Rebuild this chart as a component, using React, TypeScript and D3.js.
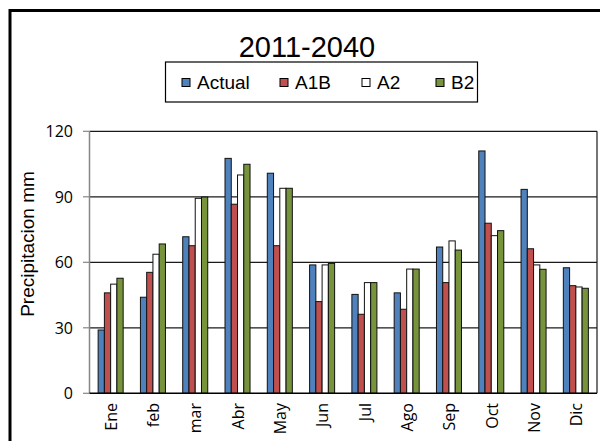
import React from "react";
import * as d3 from "d3";

const months = ["Ene", "feb", "mar", "Abr", "May", "Jun", "Jul", "Ago", "Sep", "Oct", "Nov", "Dic"];
const seriesNames = ["Actual", "A1B", "A2", "B2"];
const actual = [29, 44, 71.7, 107.6, 100.8, 58.8, 45.3, 46, 67, 111, 93.4, 57.5];
const a1b = [46, 55.4, 67.6, 86.6, 67.6, 42, 36.2, 38.5, 50.7, 77.9, 66.2, 49.3];
const a2 = [50, 63.7, 89.3, 100, 93.9, 58.8, 50.7, 56.9, 69.8, 72.2, 58.8, 48.7];
const b2 = [52.7, 68.4, 89.9, 104.9, 93.9, 59.5, 50.7, 56.9, 65.6, 74.5, 56.8, 48.1];
const yTicks = [0, 30, 60, 90, 120];
const colors = ["#4F81BD", "#C0504D", "#FFFFFF", "#77933C"];
const legendX = [182, 280, 362, 436];

const W = 600, H = 441;
const left = 89.5, right = 597, top = 131.3, bottom = 393.3;

export default function App() {
  const data = [actual, a1b, a2, b2];
  const x0 = d3.scaleBand<string>().domain(months).range([left, right]).paddingInner(0).paddingOuter(0);
  const x1 = d3.scaleBand<string>().domain(seriesNames).range([0, x0.bandwidth()]).paddingInner(0).paddingOuter(1.38);
  const y = d3.scaleLinear().domain([0, 120]).range([bottom, top]);
  const arial = "'Liberation Sans', Arial, sans-serif";
  const sans = "'Open Sans', 'DejaVu Sans', sans-serif";

  return (
    <svg width={W} height={H} style={{ position: "absolute", left: 0, top: 0, background: "#fff" }}>
      <rect x={0} y={0} width={W} height={H} fill="#fff" />
      {/* outer frame */}
      <rect x={10} y={10.5} width={W + 20} height={H + 20} fill="none" stroke="#000" strokeWidth={3} />
      {/* title */}
      <text x={307} y={57} textAnchor="middle" fontFamily={arial} fontSize={29} fill="#000">2011-2040</text>
      {/* legend */}
      <rect x={165.5} y={62} width={312} height={40} fill="#fff" stroke="#000" strokeWidth={1.2} />
      {seriesNames.map((s, i) => (
        <g key={s}>
          <rect x={legendX[i]} y={78.5} width={8} height={8} fill={colors[i]} stroke="#000" strokeWidth={1} />
          <text x={legendX[i] + 15} y={89} fontFamily={arial} fontSize={19} fill="#000">{s}</text>
        </g>
      ))}
      {/* gridlines */}
      {yTicks.filter((t) => t > 0).map((t) => (
        <line key={t} x1={left} x2={right} y1={y(t)} y2={y(t)} stroke="#1a1a1a" strokeWidth={1.2} />
      ))}
      {/* right border of plot */}
      <line x1={right} x2={right} y1={top} y2={bottom} stroke="#1a1a1a" strokeWidth={1.2} />
      {/* bars */}
      {months.map((m, mi) => (
        <g key={m} transform={`translate(${x0(m)},0)`}>
          {seriesNames.map((s, si) => (
            <rect
              key={s}
              x={x1(s)!}
              y={y(data[si][mi])}
              width={x1.bandwidth()}
              height={y(0) - y(data[si][mi])}
              fill={colors[si]}
              stroke="#111"
              strokeWidth={1}
            />
          ))}
        </g>
      ))}
      {/* y axis */}
      <line x1={left} x2={left} y1={top} y2={bottom} stroke="#868686" strokeWidth={1.5} />
      {yTicks.map((t) => (
        <g key={t}>
          <line x1={83} x2={left} y1={y(t)} y2={y(t)} stroke="#868686" strokeWidth={1.2} />
          <text x={73} y={y(t)} dy="0.36em" textAnchor="end" fontFamily={sans} fontSize={16} fill="#000">{t}</text>
        </g>
      ))}
      {/* x axis */}
      <line x1={left} x2={right} y1={bottom} y2={bottom} stroke="#000" strokeWidth={1.5} />
      {months.map((m) => (
        <text
          key={m}
          transform={`translate(${x0(m)! + x0.bandwidth() / 2 + 0.5},403) rotate(-90)`}
          textAnchor="end"
          dy="0.36em"
          fontFamily={sans}
          fontSize={16}
          fill="#000"
        >{m}</text>
      ))}
      {/* y title */}
      <text transform="translate(34,244) rotate(-90)" textAnchor="middle" fontFamily={arial} fontSize={19} fill="#000">Precipitacion mm</text>
    </svg>
  );
}
